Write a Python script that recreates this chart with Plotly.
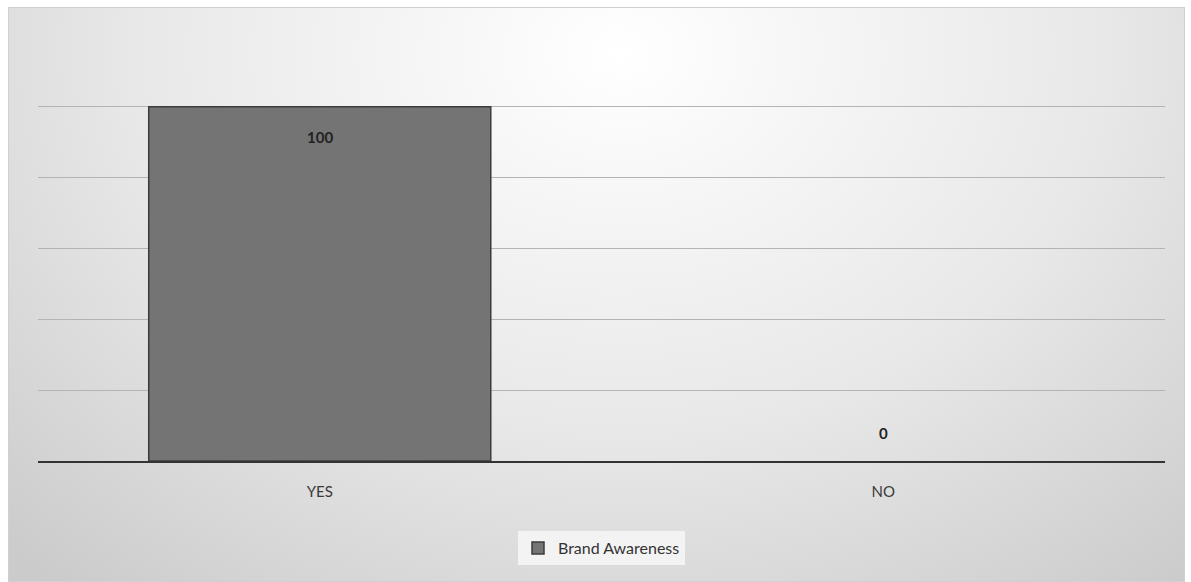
import plotly.graph_objects as go

# Survey result: brand awareness share (%)
categories = ["YES", "NO"]
values = [100, 0]
series_name = "Brand Awareness"

W, H = 1191, 582
L, R, T, B = 38, 26, 36, 121
pw, ph = W - L - R, H - T - B

# soft radial backdrop for the chart frame
bg_svg = (
    "data:image/svg+xml;utf8,"
    "<svg xmlns='http://www.w3.org/2000/svg' width='1177' height='575' preserveAspectRatio='none'>"
    "<defs><radialGradient id='g' cx='0.52' cy='0.08' r='0.75' gradientTransform='translate(0.52 0.08) scale(1 1.6) translate(-0.52 -0.08)'>"
    "<stop offset='0' stop-color='%23ffffff'/>"
    "<stop offset='0.55' stop-color='%23e8e8e8'/>"
    "<stop offset='1' stop-color='%23cbcbcb'/>"
    "</radialGradient></defs>"
    "<rect width='1177' height='575' fill='url(%23g)' stroke='%23d0d0d0' stroke-width='2'/>"
    "</svg>"
)

fig = go.Figure()
fig.add_trace(go.Bar(
    x=categories, y=values, name=series_name,
    marker=dict(color="#747474",
                line=dict(color="#3c3c3c", width=[1.5 if v > 0 else 0 for v in values])),
    width=0.607, showlegend=True, hoverinfo="x+y",
))

for c, v in zip(categories, values):
    fig.add_annotation(
        x=c, y=v, text=f"<b>{v}</b>", showarrow=False,
        yshift=-30 if v > 0 else 28,
        font=dict(family="Lato, Open Sans, sans-serif", size=15, color="#222222"),
    )

fig.add_layout_image(
    source=bg_svg, xref="paper", yref="paper",
    x=(8 - L) / pw, y=(H - B - 7) / ph,
    sizex=1177 / pw, sizey=575 / ph,
    sizing="stretch", layer="below", xanchor="left", yanchor="top",
)

fig.update_layout(
    width=W, height=H,
    margin=dict(l=L, r=R, t=T, b=B),
    paper_bgcolor="white", plot_bgcolor="rgba(0,0,0,0)",
    font=dict(family="Lato, Open Sans, sans-serif", size=15, color="#333333"),
    bargap=0.39,
    xaxis=dict(
        showline=True, linecolor="#333333", linewidth=2,
        ticks="outside", ticklen=16, tickcolor="rgba(0,0,0,0)",
        tickfont=dict(size=15, color="#3a3a3a"), showgrid=False,
    ),
    yaxis=dict(
        range=[0, 120], dtick=20, showticklabels=False,
        showgrid=True, gridcolor="#b4b4b4", gridwidth=1, zeroline=False,
    ),
    legend=dict(
        orientation="h", x=0.5, xanchor="center",
        y=(H - B - 548) / ph, yanchor="middle",
        bgcolor="rgba(245,245,245,0.9)",
        font=dict(size=16, color="#333333"),
    ),
)

fig.write_html("out.html")
